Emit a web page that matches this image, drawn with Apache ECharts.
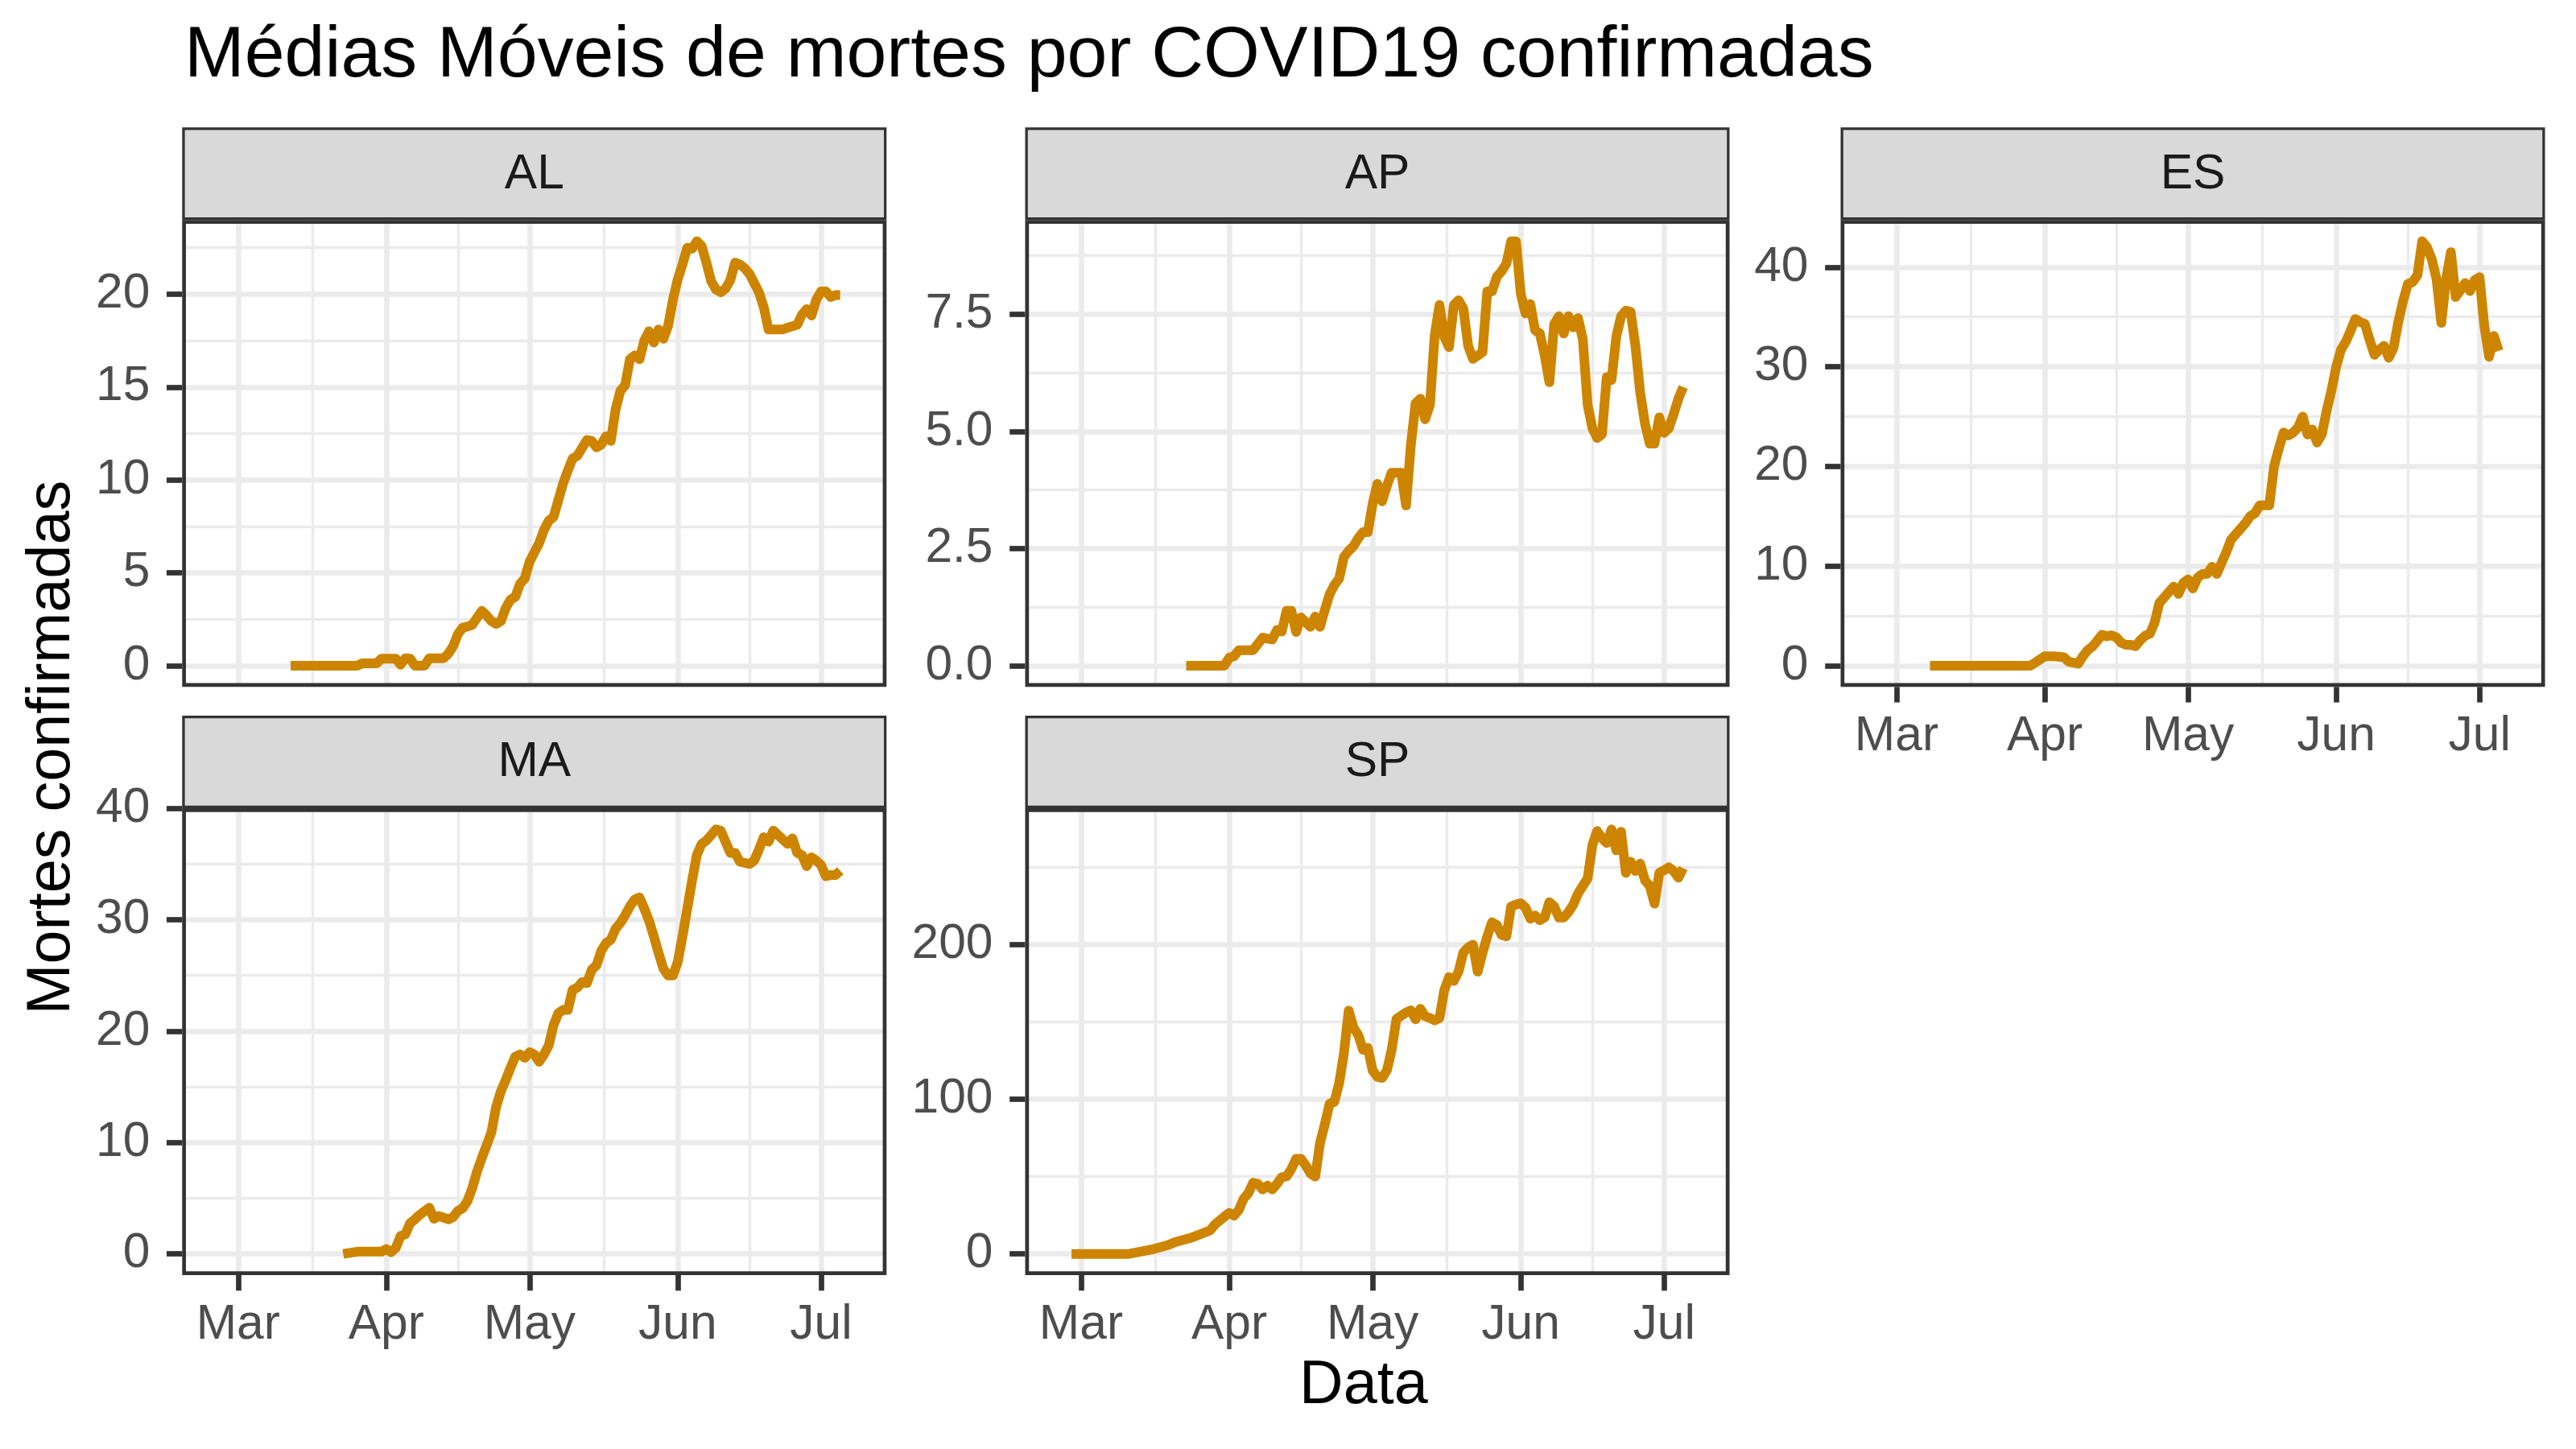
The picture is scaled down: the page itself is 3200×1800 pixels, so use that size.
<!DOCTYPE html>
<html><head><meta charset="utf-8">
<script src="https://cdn.jsdelivr.net/npm/echarts@6/dist/echarts.min.js"></script>
<style>html,body{margin:0;padding:0;background:#fff}#c{width:3200px;height:1800px}</style>
</head><body><div id="c"></div>
<script>
// ---- data (x = days since 2020-03-01, y = 7-day moving average of confirmed deaths) ----
const monthTicks = [0, 31, 61, 92, 122];
const monthLabels = ['Mar', 'Apr', 'May', 'Jun', 'Jul'];
const monthMinor = [15.5, 46, 76.5, 107];
const xRange = [-11.7, 135.7];

const stateNames = ['AL', 'AP', 'ES', 'MA', 'SP'];

const alDays = [11,25,26,29,30,33,34,35,36,37,39,40,43,44,45,46,47,48,49,51,52,53,54,55,56,57,58,59,60,61,63,64,65,66,67,68,69,70,71,73,74,75,76,77,78,79,80,81,82,83,84,85,86,87,88,89,90,91,92,93,94,95,96,97,98,99,100,101,102,103,104,105,106,107,108,109,110,111,114,115,117,118,119,120,121,122,123,124,125,126];
const alVals = [0,0,0.13,0.13,0.38,0.38,0.05,0.4,0.38,0,0,0.4,0.4,0.65,1.05,1.7,2.05,2.1,2.2,2.95,2.7,2.4,2.25,2.4,3.1,3.55,3.7,4.4,4.7,5.6,6.6,7.3,7.8,8.0,8.9,9.8,10.5,11.15,11.3,12.15,12.1,11.75,11.9,12.35,12.1,13.8,14.8,15.1,16.5,16.7,16.5,17.5,18.0,17.4,18.1,17.6,18.3,19.7,20.8,21.6,22.5,22.45,22.85,22.6,21.7,20.7,20.25,20.1,20.3,20.75,21.7,21.6,21.4,21.1,20.6,20.1,19.3,18.1,18.1,18.2,18.35,18.9,19.2,18.85,19.7,20.15,20.15,19.85,19.95,19.95];
const alTicks = [0, 5, 10, 15, 20];
const alTickLabels = ['0', '5', '10', '15', '20'];
const alMinor = [2.5, 7.5, 12.5, 17.5, 22.5];

const apDays = [22,30,31,32,33,36,38,40,41,42,43,44,45,46,48,49,50,51,52,53,54,55,56,57,58,59,60,61,62,63,64,65,67,68,69,70,71,72,73,74,75,76,77,78,79,80,81,82,84,85,86,87,88,89,90,91,92,93,94,95,96,97,98,99,100,101,102,103,104,105,106,107,108,109,110,111,112,113,114,115,116,117,118,119,120,121,122,123,124,125,126];
const apVals = [0,0,0.17,0.2,0.33,0.33,0.6,0.56,0.76,0.73,1.17,1.17,0.72,1.03,0.83,1.05,0.83,1.19,1.52,1.72,1.86,2.32,2.45,2.55,2.72,2.85,2.85,3.45,3.88,3.51,3.84,4.12,4.12,3.42,4.7,5.6,5.7,5.26,5.57,7.05,7.7,7.02,6.8,7.7,7.8,7.62,6.83,6.55,6.69,7.99,7.99,8.3,8.42,8.58,9.06,9.06,7.95,7.52,7.72,7.16,7.09,6.63,6.05,7.29,7.46,7.09,7.46,7.22,7.42,6.96,5.57,5.07,4.86,4.94,6.16,6.1,7.02,7.46,7.58,7.55,6.83,5.83,5.17,4.74,4.74,5.3,4.97,5.07,5.37,5.7,5.95];
const apTicks = [0, 2.5, 5, 7.5];
const apTickLabels = ['0.0', '2.5', '5.0', '7.5'];
const apMinor = [1.25, 3.75, 6.25, 8.75];

const esDays = [7,28,29,31,33,35,36,38,39,40,41,42,43,44,45,46,47,48,49,50,51,52,53,54,55,56,57,58,59,60,61,62,63,64,65,66,67,68,69,70,71,72,73,74,75,76,78,79,80,81,82,83,84,85,86,87,88,89,90,91,92,93,94,95,96,97,98,99,100,101,102,103,104,105,106,107,108,109,110,111,112,113,114,115,116,117,118,119,120,121,122,123,124,125,126];
const esVals = [0,0,0.3,0.95,0.95,0.85,0.4,0.2,0.95,1.56,1.93,2.5,3.1,2.95,3.05,2.84,2.3,2.1,2.1,1.95,2.55,3.0,3.2,4.3,6.3,6.84,7.4,7.93,7.2,8.3,8.65,7.75,8.84,9.2,9.2,9.93,9.2,10.3,11.4,12.65,13.2,13.75,14.3,15.0,15.3,16.1,16.1,20.0,21.8,23.4,23.1,23.4,23.9,25.0,23.2,23.7,22.4,23.2,25.6,27.6,30.0,31.7,32.5,33.6,34.8,34.5,34.3,32.7,31.2,31.7,32.1,30.9,31.9,34.5,36.6,38.3,38.5,39.2,42.6,42.0,40.8,38.8,34.4,38.8,41.5,37.0,37.7,38.4,37.6,38.7,39.0,34.1,31.0,33.1,31.6];
const esTicks = [0, 10, 20, 30, 40];
const esTickLabels = ['0', '10', '20', '30', '40'];
const esMinor = [5, 15, 25, 35];

const maDays = [22,25,30,31,32,33,34,35,36,37,38,40,41,42,43,44,45,46,47,48,49,50,51,52,53,54,55,56,57,58,59,60,61,62,63,64,65,66,67,68,69,70,71,72,73,74,75,76,77,78,79,80,81,82,83,84,85,86,87,88,89,90,91,92,93,94,95,96,97,98,99,100,101,102,103,104,105,107,108,109,110,111,112,113,114,115,116,117,118,119,120,121,122,123,124,125,126];
const maVals = [0,0.2,0.2,0.43,0.15,0.53,1.6,1.76,2.76,3.1,3.5,4.15,3.15,3.4,3.26,3.1,3.3,3.86,4.1,4.75,5.9,7.4,8.6,9.74,10.9,13.2,14.6,15.6,16.7,17.7,17.9,17.6,18.1,17.9,17.25,17.9,18.7,20.5,21.6,21.9,21.9,23.7,23.9,24.4,24.3,25.5,25.9,27.2,27.9,28.2,29.2,29.7,30.4,31.2,31.8,32.0,31.0,29.9,28.5,27.0,25.6,25.0,25.0,26.2,28.5,31.0,33.5,35.8,36.8,37.1,37.6,38.1,38.0,37.0,36.0,36.0,35.2,35.0,35.3,36.3,37.4,37.0,38.0,37.6,37.2,36.8,37.3,36.0,35.8,34.8,35.6,35.3,34.9,33.9,34.0,34.0,34.4];
const maTicks = [0, 10, 20, 30, 40];
const maTickLabels = ['0', '10', '20', '30', '40'];
const maMinor = [5, 15, 25, 35];

const spDays = [-2,10,15,18,20,23,25,27,28,30,31,32,33,34,35,36,37,38,39,40,41,42,43,44,45,46,47,48,49,50,51,52,53,54,55,56,57,58,59,60,61,62,63,64,65,66,68,69,70,71,72,73,74,75,76,77,78,79,80,81,82,83,84,85,86,87,88,89,90,91,92,93,94,95,96,97,98,99,100,101,102,103,104,105,106,107,108,109,110,111,112,113,114,115,116,117,118,119,120,121,122,123,124,125,126];
const spVals = [0,0,3.0,5.5,7.9,10.4,12.8,15.2,19,24.1,26.5,24.8,28.4,35.6,39.3,46.0,45.3,41.7,44.1,41.7,45.3,49.6,50.1,54.9,61.5,61.5,57.3,52,50,71.8,83.8,97.1,98.3,110.3,129.6,157.3,146.4,141.6,132,133.2,118.7,114.5,113.8,118.7,132,152,156.1,157.5,151.7,158.5,153.7,152.5,151,152.5,170.5,179,176.5,182.6,195,198.2,200,182.5,194.6,205.4,214.5,212.7,206.2,205.4,224.7,225.9,226.8,224,216.8,218.8,215.8,217.5,227.5,224.7,217.5,217.5,221.1,225.9,233.1,238,242.8,264.5,273.5,268.8,265.7,274.5,261,273,246.4,253.6,247.6,252.4,241.6,238,226.5,246.4,248.1,250,247.6,243.3,249.5];
const spTicks = [0, 100, 200];
const spTickLabels = ['0', '100', '200'];
const spMinor = [50, 150, 250];

// ---- layout / style ----
const FONT = '"Liberation Sans", Arial, sans-serif';
const colLeft = [226.3, 1273.5, 2286.5];
const panelW = 875;
const rowTop = [273.3, 1004];
const rowBottom = [853.3, 1584];
const stripTop = [158.3, 889];
const LINE_COLOR = '#CD8500';
const BORDER = 4.7;

const panels = [
  { name: 'AL', col: 0, row: 0, days: alDays, vals: alVals, ticks: alTicks, labels: alTickLabels, minor: alMinor, xlab: false },
  { name: 'AP', col: 1, row: 0, days: apDays, vals: apVals, ticks: apTicks, labels: apTickLabels, minor: apMinor, xlab: false },
  { name: 'ES', col: 2, row: 0, days: esDays, vals: esVals, ticks: esTicks, labels: esTickLabels, minor: esMinor, xlab: true },
  { name: 'MA', col: 0, row: 1, days: maDays, vals: maVals, ticks: maTicks, labels: maTickLabels, minor: maMinor, xlab: true },
  { name: 'SP', col: 1, row: 1, days: spDays, vals: spVals, ticks: spTicks, labels: spTickLabels, minor: spMinor, xlab: true }
];

const grids = [], xAxes = [], yAxes = [], series = [], graphics = [];
const gridLine = { color: '#EBEBEB', width: 6.7 };
const gridLineMinor = { color: '#EBEBEB', width: 3.4 };
const noLine = { show: false, onZero: false };
const tickStyle = { color: '#333333', width: 6.7 };

panels.forEach((p, i) => {
  const L = colLeft[p.col], T = rowTop[p.row], H = rowBottom[p.row] - rowTop[p.row];
  grids.push({ left: L, top: T, width: panelW, height: H, show: false, containLabel: false, outerBoundsMode: 'none' });
  const lo = Math.min(...p.vals), hi = Math.max(...p.vals), r = hi - lo;
  const yMin = lo - 0.05 * r, yMax = hi + 0.05 * r;
  // major x axis
  xAxes.push({ type: 'value', gridIndex: i, min: xRange[0], max: xRange[1], position: 'bottom', z: 1,
    axisLine: noLine,
    axisTick: { show: p.xlab, inside: false, customValues: monthTicks, length: 19.3, lineStyle: tickStyle },
    axisLabel: { show: p.xlab, customValues: monthTicks, margin: 31.5, fontSize: 60.5, color: '#4D4D4D', fontFamily: FONT,
      formatter: v => monthLabels[monthTicks.indexOf(Math.round(v))] },
    splitLine: { show: true, lineStyle: gridLine } });
  // minor x axis
  xAxes.push({ type: 'value', gridIndex: i, min: xRange[0], max: xRange[1], position: 'top', z: 0,
    axisLine: noLine, axisTick: { show: false, customValues: monthMinor },
    axisLabel: { show: false, customValues: monthMinor }, splitLine: { show: true, lineStyle: gridLineMinor } });
  // major y axis
  yAxes.push({ type: 'value', gridIndex: i, min: yMin, max: yMax, position: 'left', z: 1,
    axisLine: noLine,
    axisTick: { show: true, inside: false, customValues: p.ticks, length: 19.3, lineStyle: tickStyle },
    axisLabel: { show: true, customValues: p.ticks, margin: 40, fontSize: 60.5, color: '#4D4D4D', fontFamily: FONT,
      formatter: v => { const k = p.ticks.findIndex(t => Math.abs(t - v) < 1e-6); return k >= 0 ? p.labels[k] : ''; } },
    splitLine: { show: true, lineStyle: gridLine } });
  // minor y axis
  yAxes.push({ type: 'value', gridIndex: i, min: yMin, max: yMax, position: 'right', z: 0,
    axisLine: noLine, axisTick: { show: false, customValues: p.minor },
    axisLabel: { show: false, customValues: p.minor }, splitLine: { show: true, lineStyle: gridLineMinor } });

  series.push({ type: 'line', name: p.name, xAxisIndex: 2 * i, yAxisIndex: 2 * i, z: 2,
    data: p.days.map((d, k) => [d, p.vals[k]]), symbol: 'none', showSymbol: false, clip: true,
    lineStyle: { color: LINE_COLOR, width: 12, cap: 'butt', join: 'round' } });

  // panel border (drawn inside the panel edge, like a clipped ggplot border)
  graphics.push({ type: 'rect', z: 10, silent: true,
    shape: { x: L + BORDER / 2, y: T + BORDER / 2, width: panelW - BORDER, height: H - BORDER },
    style: { fill: null, stroke: '#333333', lineWidth: BORDER } });
  // strip
  const sH = T - stripTop[p.row];
  graphics.push({ type: 'rect', z: 4, silent: true,
    shape: { x: L + 1.65, y: stripTop[p.row] + 1.65, width: panelW - 3.3, height: sH - 3.3 },
    style: { fill: '#D9D9D9', stroke: '#333333', lineWidth: 3.3 } });
  graphics.push({ type: 'text', z: 6, x: L + panelW / 2, y: stripTop[p.row] + sH / 2 + 1.2,
    style: { text: p.name, fontSize: 60.5, fontFamily: FONT, fill: '#1A1A1A', align: 'center', verticalAlign: 'middle' } });
});

graphics.push({ type: 'text', z: 6, x: 229, y: 70.6,
  style: { text: 'Médias Móveis de mortes por COVID19 confirmadas', fontSize: 89.7, fontFamily: FONT, fill: '#000000', align: 'left', verticalAlign: 'middle' } });
graphics.push({ type: 'text', z: 6, x: (colLeft[0] + colLeft[2] + panelW) / 2, y: 1722,
  style: { text: 'Data', fontSize: 75.6, fontFamily: FONT, fill: '#000000', align: 'center', verticalAlign: 'middle' } });
graphics.push({ type: 'text', z: 6, x: 65, y: (rowTop[0] + rowBottom[1]) / 2, rotation: Math.PI / 2,
  style: { text: 'Mortes confirmadas', fontSize: 75.6, fontFamily: FONT, fill: '#000000', align: 'center', verticalAlign: 'middle' } });

const chart = echarts.init(document.getElementById('c'), null, { renderer: 'canvas', width: 3200, height: 1800 });
chart.setOption({
  animation: false,
  backgroundColor: '#ffffff',
  textStyle: { fontFamily: FONT },
  grid: grids, xAxis: xAxes, yAxis: yAxes, series: series, graphic: graphics
});
</script></body></html>
